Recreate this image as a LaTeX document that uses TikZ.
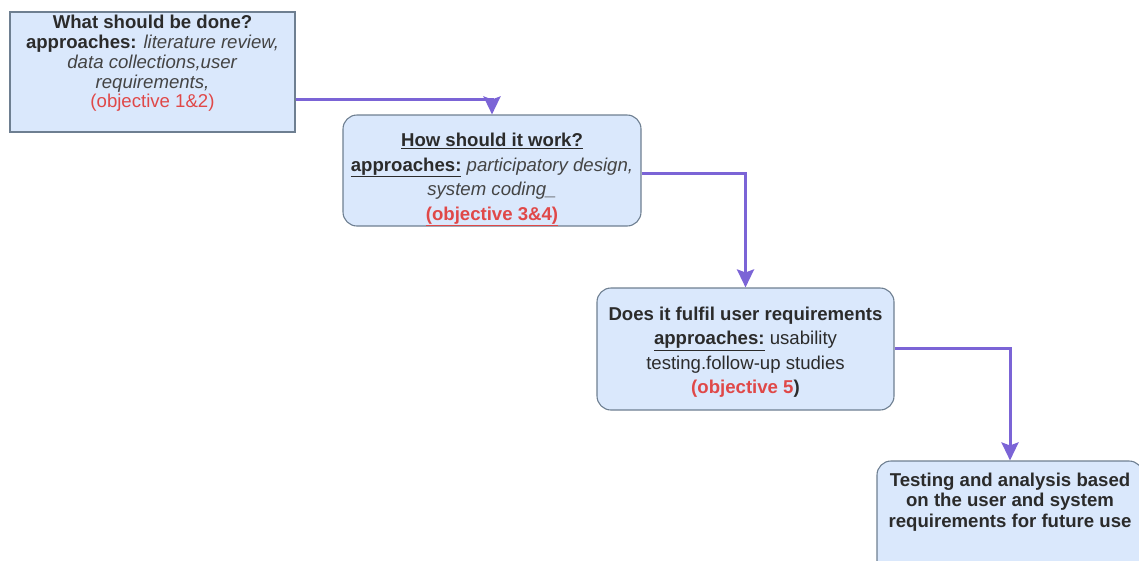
\documentclass[tikz,border=0pt]{standalone}
\usepackage{fontspec}
\setmainfont{Liberation Sans}
\usetikzlibrary{arrows.meta}
\definecolor{boxfill}{HTML}{DAE8FC}
\definecolor{boxline}{HTML}{6E7F91}
\definecolor{arrowc}{HTML}{7B64D6}
\definecolor{txt}{HTML}{2B2B2B}
\definecolor{itxt}{HTML}{444444}
\definecolor{redt}{HTML}{E04848}
\tikzset{
  basebox/.style={draw=boxline, fill=boxfill, line width=1.1pt, inner sep=0pt},
  roundbox/.style={basebox, rounded corners=14pt},
  label20/.style={text=txt, align=center, font=\fontsize{18.6}{19.8}\selectfont, inner sep=0pt},
  label24/.style={text=txt, align=center, font=\fontsize{18.6}{24.5}\selectfont, inner sep=0pt},
  flow/.style={draw=arrowc, line width=3pt, -{Stealth[length=18pt,width=17pt,inset=3pt]}}
}
\begin{document}
\begin{tikzpicture}[x=1pt,y=-1pt]
\useasboundingbox (0,0) rectangle (1139,560);
\clip (0,0) rectangle (1139,560);
% boxes
\node[basebox, minimum width=285pt, minimum height=120pt] (b1) at (152.5,72) {};
\node[label20] (t1) at (152.5,63.5)
  {\textbf{What should be done?}\\
   \textbf{approaches:} \textcolor{itxt}{\textit{literature review,}}\\
   \textcolor{itxt}{\textit{data collections,user}}\\
   \textcolor{itxt}{\textit{requirements,}}\\
   \textcolor{redt}{(objective 1\&2)}};
\node[roundbox, minimum width=298pt, minimum height=111pt] (b2) at (492,170.5) {};
\node[label24] (t2) at (492,179.5)
  {\textbf{\underline{How should it work?}}\\
   \textbf{\underline{approaches:}} \textcolor{itxt}{\textit{participatory design,}}\\
   \textcolor{itxt}{\textit{system coding\_}}\\
   \textcolor{redt}{\textbf{\underline{(objective 3\&4)}}}};
\node[roundbox, minimum width=297pt, minimum height=122pt] (b3) at (745.5,349) {};
\node[label24] (t3) at (745.5,352)
  {\textbf{Does it fulfil user requirements}\\
   \textbf{\underline{approaches:}} usability\\
   testing.follow-up studies\\
   \textbf{\textcolor{redt}{(objective 5})}};
\node[roundbox, minimum width=266pt, minimum height=114pt] (b4) at (1010,518) {};
\node[label20, font=\bfseries\fontsize{18.6}{20.5}\selectfont] (t4) at (1010,502)
  {Testing and analysis based\\
   on the user and system\\
   requirements for future use};
% connectors
\draw[flow] (b1.east |- 0,99) -| (b2.north);
\draw[flow] (b2.east |- 0,173) -| (b3.north);
\draw[flow] (b3.east |- 0,348) -| (b4.north);
\end{tikzpicture}
\end{document}
